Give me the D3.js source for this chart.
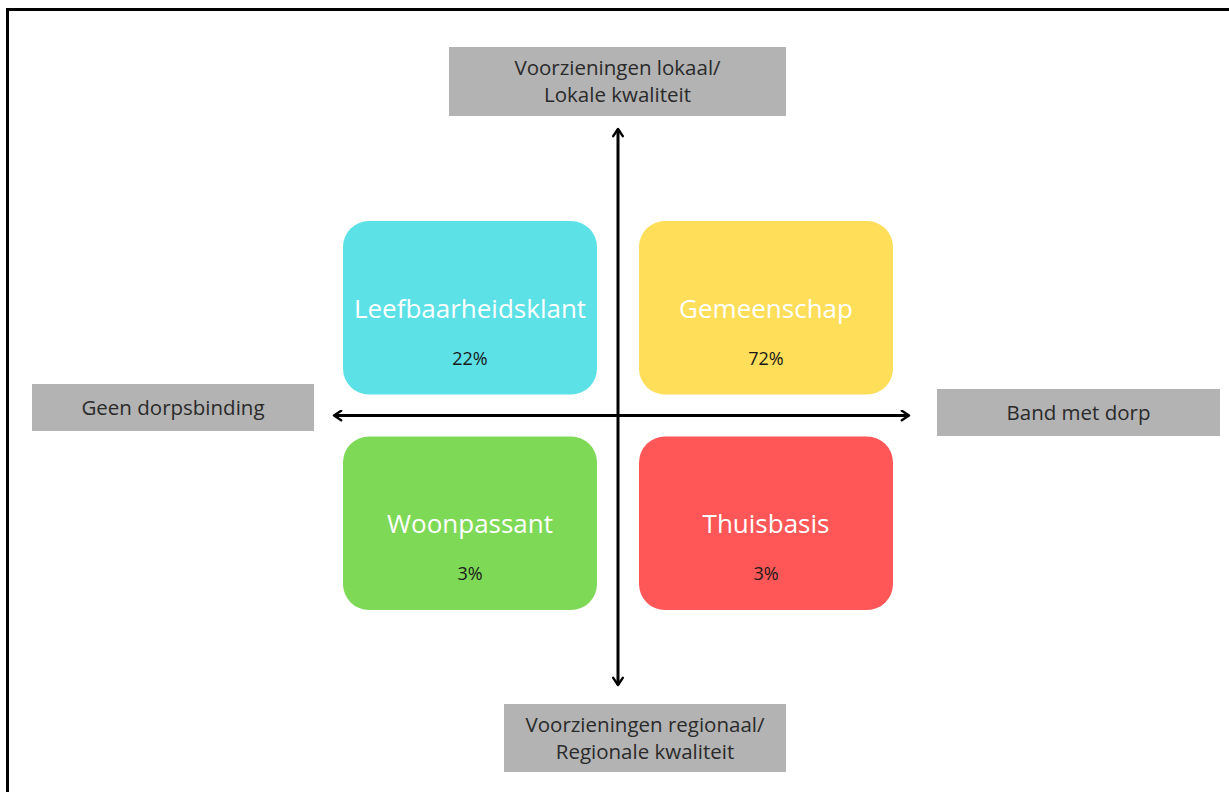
<!DOCTYPE html>
<html>
<head>
<meta charset="utf-8">
<script src="https://cdn.jsdelivr.net/npm/d3@7"></script>
<style>
  body { margin: 0; background: #fff; }
  svg text { font-family: "Open Sans", sans-serif; }
</style>
</head>
<body>
<div id="myQuadrant"></div>
<script>
// quadrant data
var segments = ['Leefbaarheidsklant', 'Gemeenschap', 'Woonpassant', 'Thuisbasis'];
var shares = [22, 72, 3, 3];
var bindingSide = ['Geen dorpsbinding', 'Band met dorp', 'Geen dorpsbinding', 'Band met dorp'];
var facilitySide = ['lokaal', 'lokaal', 'regionaal', 'regionaal'];
var segmentColors = ['#5ce1e6', '#ffde59', '#7ed957', '#ff5757'];

// axis labels
var axisTop = ['Voorzieningen lokaal/', 'Lokale kwaliteit'];
var axisBottom = ['Voorzieningen regionaal/', 'Regionale kwaliteit'];
var axisLeft = ['Geen dorpsbinding'];
var axisRight = ['Band met dorp'];

function plotQuadrant() {
	var width = 1229, height = 792;
	var svg = d3.select('#myQuadrant')
		.append('svg')
		.attr('width', width)
		.attr('height', height);

	// frame (only top and left edges are visible)
	svg.append('rect')
		.attr('x', 7.5)
		.attr('y', 9.5)
		.attr('width', 1240)
		.attr('height', 800)
		.attr('fill', 'none')
		.attr('stroke', '#000')
		.attr('stroke-width', 3);

	var x = d3.scaleBand()
		.domain(['Geen dorpsbinding', 'Band met dorp'])
		.range([343, 893])
		.paddingInner(42 / 296);

	var y = d3.scaleBand()
		.domain(['lokaal', 'regionaal'])
		.range([221, 610])
		.paddingInner(42 / 215.5);

	var cx = x.range()[0] + x.step() - x.step() * x.paddingInner() / 2;
	var cy = y.range()[0] + y.step() - y.step() * y.paddingInner() / 2;

	var data = segments.map(function (s, i) {
		return { name: s, share: shares[i], bx: bindingSide[i], fy: facilitySide[i], color: segmentColors[i] };
	});

	var cells = svg.selectAll('.segment')
		.data(data)
		.enter().append('g')
		.attr('class', 'segment');

	cells.append('rect')
		.attr('x', function (d) { return x(d.bx); })
		.attr('y', function (d) { return y(d.fy); })
		.attr('width', x.bandwidth())
		.attr('height', y.bandwidth())
		.attr('rx', 26)
		.attr('fill', function (d) { return d.color; });

	cells.append('text')
		.attr('x', function (d) { return x(d.bx) + x.bandwidth() / 2; })
		.attr('y', function (d) { return y(d.fy) + y.bandwidth() * 0.5 + 10; })
		.attr('text-anchor', 'middle')
		.attr('fill', '#fff')
		.style('font-size', '26px')
		.text(function (d) { return d.name; });

	cells.append('text')
		.attr('x', function (d) { return x(d.bx) + x.bandwidth() / 2; })
		.attr('y', function (d) { return y(d.fy) + y.bandwidth() * 0.5 + 57; })
		.attr('text-anchor', 'middle')
		.attr('fill', '#1a1a1a')
		.style('font-size', '18px')
		.text(function (d) { return d.share + '%'; });

	// arrows
	var defs = svg.append('defs');
	defs.append('marker')
		.attr('id', 'arrow')
		.attr('viewBox', '0 0 10 10')
		.attr('refX', 8)
		.attr('refY', 5)
		.attr('markerWidth', 4)
		.attr('markerHeight', 4)
		.attr('markerUnits', 'strokeWidth')
		.attr('orient', 'auto-start-reverse')
		.append('path')
		.attr('d', 'M2,1 L8,5 L2,9')
		.attr('fill', 'none')
		.attr('stroke', '#000')
		.attr('stroke-width', 2)
		.attr('stroke-linecap', 'round')
		.attr('stroke-linejoin', 'round');

	svg.append('line')
		.attr('x1', 334).attr('x2', 909)
		.attr('y1', cy).attr('y2', cy)
		.attr('stroke', '#000')
		.attr('stroke-width', 3)
		.attr('marker-start', 'url(#arrow)')
		.attr('marker-end', 'url(#arrow)');

	svg.append('line')
		.attr('x1', cx).attr('x2', cx)
		.attr('y1', 129).attr('y2', 685)
		.attr('stroke', '#000')
		.attr('stroke-width', 3)
		.attr('marker-start', 'url(#arrow)')
		.attr('marker-end', 'url(#arrow)');

	// axis label boxes
	var labels = [
		{ lines: axisTop, x: 449, y: 47, w: 337, h: 69 },
		{ lines: axisBottom, x: 504, y: 704, w: 282, h: 68 },
		{ lines: axisLeft, x: 32, y: 384, w: 282, h: 47 },
		{ lines: axisRight, x: 937, y: 389, w: 283, h: 47 }
	];

	var boxes = svg.selectAll('.axis-label')
		.data(labels)
		.enter().append('g')
		.attr('class', 'axis-label');

	boxes.append('rect')
		.attr('x', function (d) { return d.x; })
		.attr('y', function (d) { return d.y; })
		.attr('width', function (d) { return d.w; })
		.attr('height', function (d) { return d.h; })
		.attr('fill', '#b3b3b3');

	boxes.each(function (d) {
		var g = d3.select(this);
		var lh = 27;
		var top = d.y + d.h / 2 - (d.lines.length - 1) * lh / 2 + 7;
		d.lines.forEach(function (t, i) {
			g.append('text')
				.attr('x', d.x + d.w / 2)
				.attr('y', top + i * lh)
				.attr('text-anchor', 'middle')
				.attr('fill', '#2a2a2a')
				.style('font-size', '20.5px')
				.text(t);
		});
	});
}

document.addEventListener('DOMContentLoaded', plotQuadrant, false);
</script>
</body>
</html>
